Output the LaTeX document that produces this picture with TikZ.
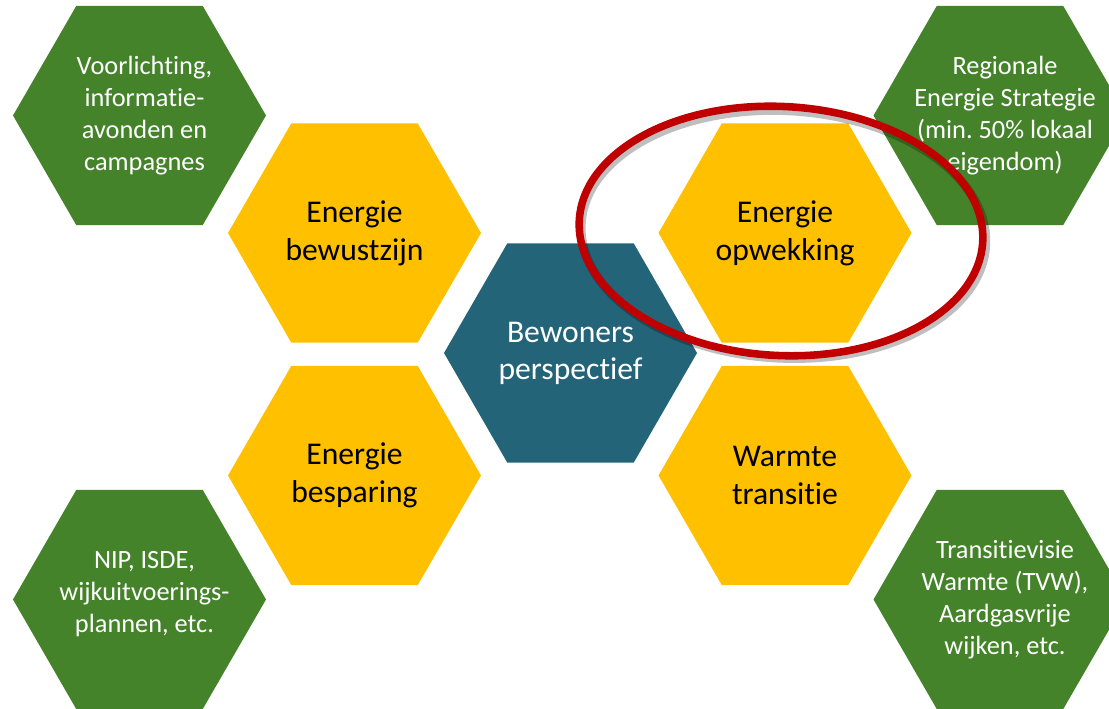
\documentclass[tikz,border=0pt]{standalone}
\usepackage{fontspec}
\setmainfont{Carlito}[Ligatures={NoCommon}]
\usepackage{tikz}
\usetikzlibrary{shapes.geometric}
\frenchspacing

\definecolor{hexgreen}{RGB}{68,131,42}
\definecolor{hexyellow}{RGB}{255,192,0}
\definecolor{hexteal}{RGB}{36,100,120}
\definecolor{ringred}{RGB}{192,0,0}

\tikzset{
  hexa/.style={regular polygon, regular polygon sides=6, minimum size=5.06cm,
    inner sep=0pt, outer sep=0pt, align=center},
  themehex/.style={hexa, fill=hexyellow, text=black, font=\fontsize{18}{21.6}\selectfont},
  toolhex/.style={hexa, fill=hexgreen},
  tooltext/.style={align=center, text=white, inner sep=0pt, font=\fontsize{15}{18.2}\selectfont},
  corehex/.style={hexa, fill=hexteal, text=white, font=\fontsize{18}{21}\selectfont}
}

\begin{document}
\begin{tikzpicture}
      \useasboundingbox (0,0) rectangle (22.18,14.16);
      \clip (0,0) rectangle (22.18,14.16);
      % groene zeshoeken
      \node[toolhex] (voorl) at (2.79,11.85) {};
      \node[toolhex] (res) at (20.0,11.85) {};
      \node[toolhex] (nip) at (2.79,2.17) {};
      \node[toolhex] (tvw) at (20.0,2.17) {};
      \node[tooltext] (voorltxt) at ([xshift=1mm]voorl.center) {Voorlichting,\\informatie-\\avonden en\\campagnes};
      \node[tooltext] (restxt) at ([xshift=1mm]res.center) {Regionale\\Energie Strategie\\(min. 50\% lokaal\\eigendom)};
      \node[tooltext] (niptxt) at ([xshift=1mm,yshift=1mm]nip.center) {NIP, ISDE,\\wijkuitvoerings-\\plannen, etc.};
      \node[tooltext] (tvwtxt) at ([xshift=1mm]tvw.center) {Transitievisie\\Warmte (TVW),\\Aardgasvrije\\wijken, etc.};
      % gele zeshoeken
      \node[themehex] (bewust) at (7.09,9.5) {Energie\\bewustzijn};
      \node[themehex] (besp) at (7.09,4.65) {Energie\\besparing};
      \node[themehex] (opwek) at (15.7,9.5) {Energie\\opwekking};
      \node[themehex] (warmte) at (15.7,4.65) {Warmte\\transitie};
      % midden
      \node[corehex] (bewoners) at (11.41,7.1) {Bewoners\\perspectief};
      % rode ring
      \node[ellipse, draw=black, draw opacity=0.25, line width=5pt, minimum width=8.1cm,
        minimum height=4.95cm, rotate=-3] (ringshadow) at (15.67,9.47) {};
      \node[ellipse, draw=ringred, line width=4.3pt, minimum width=8.08cm,
        minimum height=4.98cm, rotate=-3] (ring) at (15.62,9.54) {};
    \end{tikzpicture}
\end{document}
